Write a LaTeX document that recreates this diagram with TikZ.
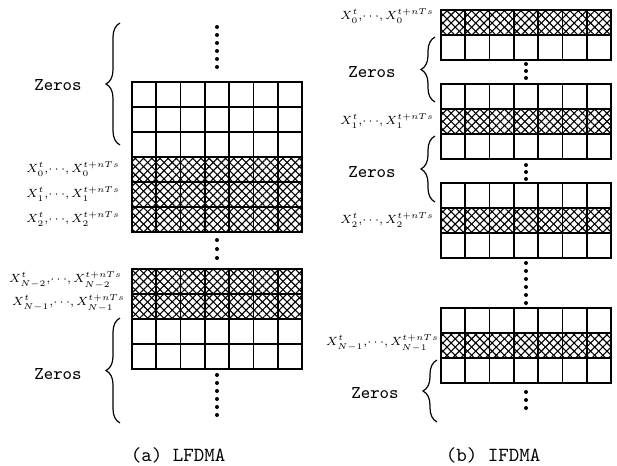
\documentclass[tikz,border=0pt]{standalone}
\usetikzlibrary{patterns.meta,decorations.pathreplacing}
\DeclareMathSizes{6.9}{6.9}{4.8}{3.5}

% one block of cells: #1 left x, #2 top y, #3 number of rows, #4 hatched rows
\newcommand{\cellblock}[4]{%
  \foreach \r in {#4} {
    \fill[hatchA] (#1,#2+\r*25) rectangle ++(170,25);
    \fill[hatchB] (#1,#2+\r*25) rectangle ++(170,25);
    \draw[frame] (#1,#2+\r*25) rectangle ++(170,25);
  }
  \foreach \c in {1,...,6}
    \draw[cell] (#1+\c*170/7,#2) -- ++(0,#3*25);
  \foreach \r in {1,...,#3}
    \draw[cell] (#1,#2+\r*25) -- ++(170,0);
  \draw[frame] (#1,#2) rectangle ++(170,#3*25);
}
% data label X^t_k, ..., X_k^{t+nTs}
\newcommand{\xlab}[1]{\scalebox{0.85}{$X^t_{#1},\!\cdots\!,X_{#1}^{t+nTs}$}}

\begin{document}
\begin{tikzpicture}[
  x=0.5pt, y=-0.5pt,
  cell/.style = {line width=0.9pt},
  frame/.style = {line width=1.4pt},
  hatchA/.style = {pattern={Lines[angle=45,distance=2.9pt,line width=0.55pt]}},
  hatchB/.style = {pattern={Lines[angle=-45,distance=2.9pt,line width=0.55pt]}},
  dotc/.style = {fill=black},
  zbrace/.style = {decorate, decoration={brace, amplitude=7pt}, line width=0.6pt},
  lbl/.style = {anchor=east, inner sep=1pt, font=\fontsize{6.9}{8}\selectfont},
  zlbl/.style = {font=\ttfamily\fontsize{9}{10}\selectfont},
  captext/.style = {font=\ttfamily\fontsize{10}{12}\selectfont}
]
\useasboundingbox (0,0) rectangle (617,466);

% (a) LFDMA, grid left x=132
\cellblock{132}{82}{6}{3,4,5}
\cellblock{132}{269}{4}{0,1}

\foreach \y in {27,35,...,68} \fill[dotc] (217,\y) circle[radius=2];
\foreach \y in {240,249,258} \fill[dotc] (217,\y) circle[radius=2];
\foreach \y in {375,383,...,415} \fill[dotc] (217,\y) circle[radius=2];

\draw[zbrace] (120,145) -- (120,23);
\node[zlbl] (zerosa1) at (58,85) {Zeros};
\draw[zbrace] (120,423) -- (120,318);
\node[zlbl] (zerosa2) at (58,374) {Zeros};

\node[lbl] (xa0) at (122,169) {\xlab{0}};
\node[lbl] (xa1) at (122,194) {\xlab{1}};
\node[lbl] (xa2) at (122,219) {\xlab{2}};
\node[lbl] (xa3) at (124,280) {\xlab{N-2}};
\node[lbl] (xa4) at (127,303) {\xlab{N-1}};

\node[captext] (capa) at (178,455) {(a) LFDMA};

% (b) IFDMA, grid left x=441
\cellblock{441}{10}{2}{0}
\cellblock{441}{84}{3}{1}
\cellblock{441}{183}{3}{1}
\cellblock{441}{308}{3}{1}

\foreach \y in {64,71,78} \fill[dotc] (526,\y) circle[radius=2];
\foreach \y in {165,172,179} \fill[dotc] (526,\y) circle[radius=2];
\foreach \y in {263,271,...,303} \fill[dotc] (526,\y) circle[radius=2];
\foreach \y in {392,400,408} \fill[dotc] (526,\y) circle[radius=2];

\draw[zbrace] (435,102) -- (435,37);
\node[zlbl] (zerosb1) at (372,72) {Zeros};
\draw[zbrace] (435,202) -- (435,136);
\node[zlbl] (zerosb2) at (372,172) {Zeros};
\draw[zbrace] (437,422) -- (437,360);
\node[zlbl] (zerosb3) at (375,393) {Zeros};

\node[lbl] (xb0) at (436,16) {\xlab{0}};
\node[lbl] (xb1) at (436,121) {\xlab{1}};
\node[lbl] (xb2) at (436,220) {\xlab{2}};
\node[lbl] (xb3) at (441,343) {\xlab{N-1}};

\node[captext] (capb) at (493,455) {(b) IFDMA};
\end{tikzpicture}
\end{document}
